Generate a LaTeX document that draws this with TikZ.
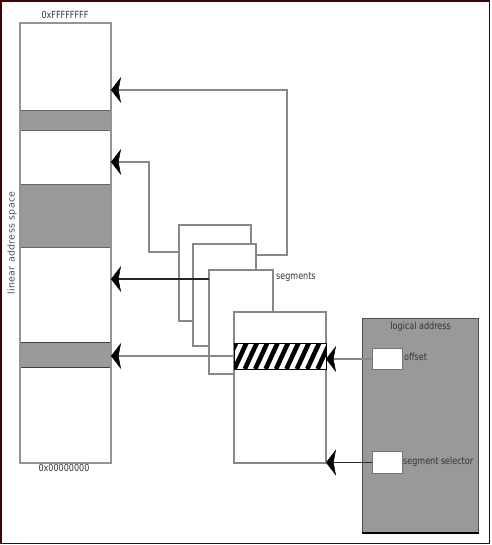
\documentclass[tikz,border=0pt]{standalone}
\usepackage{fontspec}
\setmainfont{DejaVu Sans}[FakeStretch=0.82]
\newfontfamily\vlabel{DejaVu Sans}[LetterSpace=4]
\usetikzlibrary{arrows.meta}
\definecolor{frame}{HTML}{3C0505}
\definecolor{ln}{HTML}{888888}
\definecolor{band}{HTML}{9A9A9A}
\definecolor{bandedge}{HTML}{666666}
\definecolor{txt}{HTML}{333333}
\definecolor{lafill}{HTML}{999999}
\tikzset{
  box/.style={draw=ln, line width=1.2pt, fill=white, anchor=north west, inner sep=0pt, outer sep=0pt},
  bandbox/.style={draw=bandedge, line width=1pt, fill=band, anchor=north west, inner sep=0pt, outer sep=0pt},
  lbl/.style={text=txt, font=\fontsize{9.8}{10}\selectfont, inner sep=0pt},
  conn/.style={draw=ln, line width=1.1pt},
  arr/.style={conn, -{Stealth[length=10pt,width=26pt,inset=2.5pt,line width=0.5pt,black,fill=black]}},
  darkarr/.style={arr, draw=black!85, line width=1.8pt},
}
\begin{document}
\begin{tikzpicture}[x=1pt,y=-1pt]
\useasboundingbox (0,0) rectangle (491,545);
\draw[frame, line width=1.6pt] (0.8,0.8) rectangle (489.6,543.6);

% linear address space column
\node[box, draw=ln!90, line width=1.5pt, minimum width=91pt, minimum height=440pt] (col) at (20,23) {};
\node[bandbox, minimum width=91pt, minimum height=20pt] (b1) at (20,111) {};
\node[bandbox, minimum width=91pt, minimum height=62pt] (b2) at (20,185) {};
\node[bandbox, draw=black!75, minimum width=91pt, minimum height=25pt] (b3) at (20,342) {};
\draw[ln!90, line width=1.5pt] (col.north west) rectangle (col.south east);
\node[lbl] (top) at (65,15) {0xFFFFFFFF};
\node[lbl] (bot) at (64,468) {0x00000000};
\node[lbl, rotate=90, text=black!70, font=\vlabel\fontsize{9.4}{10}\selectfont] (las) at (12,243) {linear address space};

% segments
\node[box, minimum width=72pt, minimum height=96pt] (s1) at (179,225) {};
\node[box, minimum width=63pt, minimum height=102pt] (s2) at (193,244) {};
\node[box, minimum width=64pt, minimum height=104pt] (s3) at (209,270) {};
\node[lbl, anchor=west] (seglbl) at (276,277) {segments};

% arrows from segments to linear space
\coordinate (k1) at (287,90);
\coordinate (h1) at (0,255);
\draw[arr] (s2.east |- h1) -| (k1) -- (col.east |- k1);
\coordinate (k2) at (149,162);
\coordinate (h2) at (0,252);
\draw[arr] (s1.west |- h2) -| (k2) -- (col.east |- k2);

\node[box, minimum width=92pt, minimum height=151pt] (s4) at (234,312) {};
\coordinate (h3) at (0,279);
\draw[darkarr] (s3.west |- h3) -- (col.east |- h3);

% hatched band
\node[box, draw=black, line width=0.8pt, minimum width=92pt, minimum height=26pt] (hb) at (234,343) {};
\begin{scope}
  \clip (hb.south west) rectangle (hb.north east);
  \foreach \i in {0,...,10} {
    \draw[black, line width=4.6pt] (224+10.4*\i,369) -- (236+10.4*\i,343);
  }
\end{scope}
\draw[black, line width=0.8pt] (hb.north west) rectangle (hb.south east);
\draw[arr] (hb.west) -- (col.east |- hb.west);

% logical address
\node[draw=black!70, line width=1.2pt, fill=lafill, anchor=north west, inner sep=0pt, minimum width=116pt, minimum height=214pt] (la) at (362,318) {};
\draw[black, line width=2.4pt] (la.south west) -- (la.south east);
\node[lbl, anchor=north, yshift=-4pt] (lalbl) at (la.north) {logical address};
\node[draw=black!55, line width=1pt, fill=white, anchor=north west, inner sep=0pt, minimum width=30pt, minimum height=21pt] (off) at (372,348) {};
\node[lbl, anchor=west] (offlbl) at (404,357) {offset};
\node[draw=black!55, line width=1pt, fill=white, anchor=north west, inner sep=0pt, minimum width=30pt, minimum height=22pt] (sel) at (372,451) {};
\node[lbl, anchor=west] (sellbl) at (403,462) {segment selector};

\draw[arr] (off.west) -- (s4.east |- off.west);
\draw[darkarr, line width=1.4pt] (sel.west) -- (s4.east |- sel.west);
\end{tikzpicture}
\end{document}
